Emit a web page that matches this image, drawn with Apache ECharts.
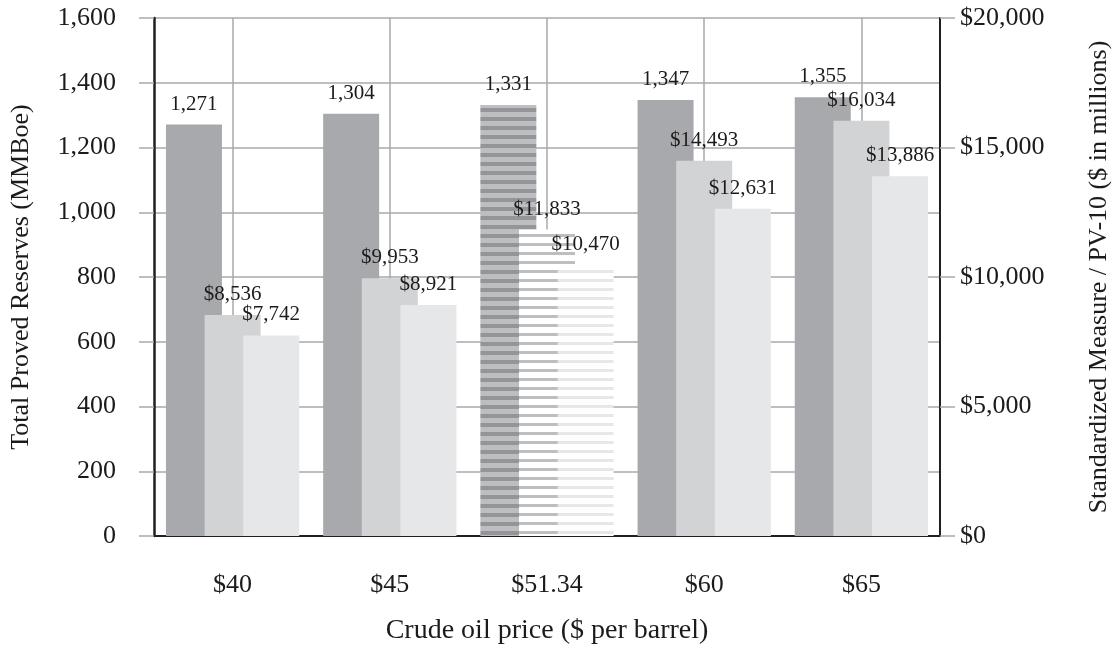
<!DOCTYPE html>
<html>
<head>
<meta charset="utf-8">
<script src="https://cdn.jsdelivr.net/npm/echarts@6/dist/echarts.min.js"></script>
<style>
html,body{margin:0;padding:0;background:#fff;}
#chart{width:1120px;height:650px;}
</style>
</head>
<body>
<div id="chart"></div>
<script>
var categories = ['$40', '$45', '$51.34', '$60', '$65'];
var reserves = [1271, 1304, 1331, 1347, 1355];
var standardized = [8536, 9953, 11833, 14493, 16034];
var pv10 = [7742, 8921, 10470, 12631, 13886];
var leftTicks = [0, 200, 400, 600, 800, 1000, 1200, 1400, 1600];
var rightTicks = [0, 5000, 10000, 15000, 20000];
var highlightIndex = 2;

var FONT = '"Liberation Serif", "Times New Roman", serif';
var TEXT = '#1c1a1b';
var GRID = '#a7a9ac';
var colors = ['#a7a9ac', '#d1d3d4', '#e6e7e8'];

function stripe(bg, fg, fgH, total) {
  var c = document.createElement('canvas');
  c.width = 4; c.height = total;
  var g = c.getContext('2d');
  g.fillStyle = bg; g.fillRect(0, 0, 4, total);
  g.fillStyle = fg; g.fillRect(0, 0, 4, fgH);
  return { image: c, repeat: 'repeat' };
}
var patterns = [
  stripe('#bcbec0', '#939598', 4, 9),
  stripe('#ffffff', '#bcbec0', 3, 9),
  stripe('#ffffff', '#e6e7e8', 3, 9)
];

function fmt(v) { return v.toLocaleString('en-US'); }

function build(values, idx) {
  return values.map(function (v, i) {
    var item = { value: v };
    if (i === highlightIndex) item.itemStyle = { color: patterns[idx] };
    return item;
  });
}

var labelBase = { show: true, position: 'top', distance: 10, fontFamily: FONT, fontSize: 21, color: TEXT };

var option = {
  animation: false,
  grid: { left: 153, right: 178, top: 18, bottom: 113 },
  xAxis: {
    type: 'category',
    data: categories,
    name: 'Crude oil price ($ per barrel)',
    nameLocation: 'middle',
    nameGap: 81,
    nameTextStyle: { fontFamily: FONT, fontSize: 28, color: TEXT },
    axisLine: { lineStyle: { color: '#231f20', width: 2 } },
    axisTick: { alignWithLabel: true, length: 12, lineStyle: { color: GRID, width: 1.5 } },
    axisLabel: { margin: 36, fontFamily: FONT, fontSize: 26, color: TEXT },
    splitLine: { show: true, alignWithLabel: true, lineStyle: { color: GRID, width: 1.5 } }
  },
  yAxis: [
    {
      type: 'value', position: 'left', min: 0, max: 1600, interval: 200,
      name: 'Total Proved Reserves (MMBoe)',
      nameLocation: 'middle', nameRotate: 90, nameGap: 120,
      nameTextStyle: { fontFamily: FONT, fontSize: 26, color: TEXT },
      axisLine: { show: true, lineStyle: { color: '#231f20', width: 2.5 } },
      axisTick: { show: true, length: 15, lineStyle: { color: GRID, width: 1.5 } },
      axisLabel: { margin: 38, fontFamily: FONT, fontSize: 26, color: TEXT, formatter: function (v) { return fmt(v); } },
      splitLine: { show: true, lineStyle: { color: GRID, width: 1.5 } }
    },
    {
      type: 'value', position: 'right', min: 0, max: 20000, interval: 5000,
      name: 'Standardized Measure / PV-10 ($ in millions)',
      nameLocation: 'middle', nameRotate: 90, nameGap: 146,
      nameTextStyle: { fontFamily: FONT, fontSize: 26, color: TEXT },
      axisLine: { show: true, lineStyle: { color: '#231f20', width: 2 } },
      axisTick: { show: true, length: 15, lineStyle: { color: GRID, width: 1.5 } },
      axisLabel: { margin: 20, fontFamily: FONT, fontSize: 26, color: TEXT, formatter: function (v) { return '$' + fmt(v); } },
      splitLine: { show: false }
    }
  ],
  series: [
    {
      name: 'Total Proved Reserves', type: 'bar', yAxisIndex: 0,
      data: build(reserves, 0),
      barWidth: 56, barGap: '-31%',
      itemStyle: { color: colors[0] },
      label: Object.assign({}, labelBase, { formatter: function (p) { return fmt(p.value); } })
    },
    {
      name: 'Standardized Measure', type: 'bar', yAxisIndex: 1,
      data: build(standardized, 1),
      barWidth: 56, barGap: '-31%',
      itemStyle: { color: colors[1] },
      label: Object.assign({}, labelBase, { formatter: function (p) { return '$' + fmt(p.value); } })
    },
    {
      name: 'PV-10', type: 'bar', yAxisIndex: 1,
      data: build(pv10, 2),
      barWidth: 56, barGap: '-31%',
      itemStyle: { color: colors[2] },
      label: Object.assign({}, labelBase, { formatter: function (p) { return '$' + fmt(p.value); } })
    }
  ]
};

var chart = echarts.init(document.getElementById('chart'), null, { renderer: 'canvas' });
chart.setOption(option);
</script>
</body>
</html>
